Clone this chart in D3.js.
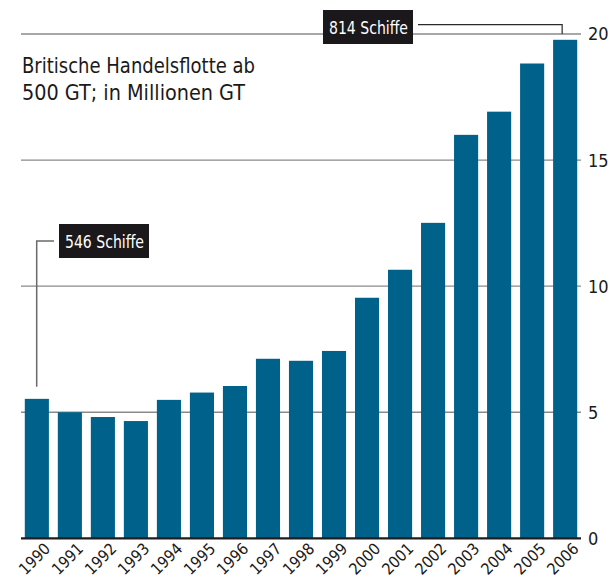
<!DOCTYPE html>
<html>
<head>
<meta charset="utf-8">
<script src="https://cdn.jsdelivr.net/npm/d3@7"></script>
<style>
  html, body { margin: 0; padding: 0; background: #fff; }
  svg { display: block; font-family: "DejaVu Sans Condensed", "Open Sans", sans-serif; }
</style>
</head>
<body>
<svg id="chart" width="609" height="576"></svg>
<script>
// Britische Handelsflotte ab 500 GT, in Millionen GT
const years = ["1990","1991","1992","1993","1994","1995","1996","1997","1998",
               "1999","2000","2001","2002","2003","2004","2005","2006"];
const tonnage = [5.53, 5.0, 4.81, 4.65, 5.49, 5.78, 6.04, 7.12, 7.04,
                 7.43, 9.54, 10.65, 12.51, 16.0, 16.92, 18.83, 19.77];
const yTicks = [0, 5, 10, 15, 20];
const titleLines = ["Britische Handelsflotte ab", "500 GT; in Millionen GT"];
const callouts = [
  { year: "1990", text: "546 Schiffe" },
  { year: "2006", text: "814 Schiffe" }
];

const svg = d3.select("#chart");
const plot = { left: 21, right: 581, top: 34, bottom: 538.3 };

const x = d3.scaleBand()
  .domain(years)
  .range([20.5, 581.5])
  .paddingInner(0.27)
  .paddingOuter(0.13);

const y = d3.scaleLinear()
  .domain([0, 20])
  .range([plot.bottom, plot.top]);

// horizontal grid lines
svg.append("g")
  .selectAll("line")
  .data(yTicks.filter(d => d > 0))
  .join("line")
  .attr("x1", plot.left).attr("x2", plot.right)
  .attr("y1", d => y(d)).attr("y2", d => y(d))
  .attr("stroke", "#8a8a8a")
  .attr("stroke-width", 1.4);

// y tick labels on the right
svg.append("g")
  .selectAll("text")
  .data(yTicks)
  .join("text")
  .attr("x", 588)
  .attr("y", d => y(d))
  .attr("dy", "0.36em")
  .attr("font-size", 18)
  .attr("fill", "#1a1a1a")
  .text(d => d);

// bars
svg.append("g")
  .selectAll("rect")
  .data(years.map((yr, i) => ({ yr, v: tonnage[i] })))
  .join("rect")
  .attr("x", d => x(d.yr))
  .attr("width", x.bandwidth())
  .attr("y", d => y(d.v))
  .attr("height", d => y(0) - y(d.v))
  .attr("fill", "#00628b");

// baseline
svg.append("line")
  .attr("x1", plot.left).attr("x2", plot.right)
  .attr("y1", y(0)).attr("y2", y(0))
  .attr("stroke", "#1e1e1e")
  .attr("stroke-width", 2.2);

// year labels, rotated
svg.append("g")
  .selectAll("text")
  .data(years)
  .join("text")
  .attr("transform", d => `translate(${x(d) + x.bandwidth() / 2 + 6},${y(0) + 3}) rotate(-45)`)
  .attr("text-anchor", "end")
  .attr("dy", "0.75em")
  .attr("font-size", 16)
  .attr("fill", "#1a1a1a")
  .text(d => d);

// title
svg.append("g")
  .selectAll("text")
  .data(titleLines)
  .join("text")
  .attr("x", 22)
  .attr("y", (d, i) => 72.5 + i * 27.5)
  .attr("font-size", 22)
  .attr("fill", "#1a1a1a")
  .attr("textLength", (d, i) => i === 0 ? 233 : 223)
  .attr("lengthAdjust", "spacingAndGlyphs")
  .text(d => d);

// ship-count callouts
function callout(c, box, path, stroke, strokeWidth) {
  svg.append("path")
    .attr("d", path)
    .attr("fill", "none")
    .attr("stroke", stroke)
    .attr("stroke-width", strokeWidth);
  svg.append("rect")
    .attr("x", box.x).attr("y", box.y).attr("width", box.w).attr("height", box.h)
    .attr("fill", "#1b181c");
  svg.append("text")
    .attr("x", box.x + 6).attr("y", box.y + 24)
    .attr("font-size", 18)
    .attr("fill", "#fff")
    .attr("textLength", 79)
    .attr("lengthAdjust", "spacingAndGlyphs")
    .text(c.text);
}

const cx = yr => x(yr) + x.bandwidth() / 2;

// 1990
{
  const box = { x: 59, y: 224, w: 90, h: 34 };
  const lx = 36.7;
  callout(callouts[0], box,
    `M${lx},${y(tonnage[0]) - 12}V${box.y + box.h / 2}H${box.x - 5}`,
    "#6a6a6a", 1.5);
}

// 2006
{
  const box = { x: 323, y: 10, w: 90, h: 34 };
  const lx = cx(callouts[1].year) - 3;
  callout(callouts[1], box,
    `M${box.x + box.w + 5},24.7H${lx}V${y(20)}`,
    "#2a2a2a", 1.2);
}
</script>
</body>
</html>
